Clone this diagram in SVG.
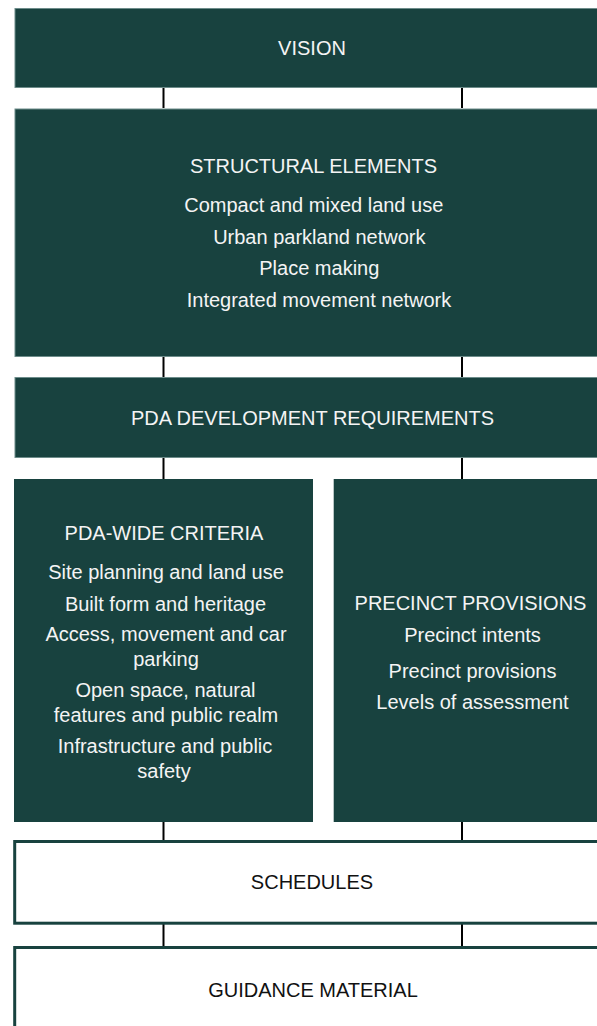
<svg xmlns="http://www.w3.org/2000/svg" width="597" height="1026" viewBox="0 0 597 1026">
<style>
.dark{fill:#18423f;}
.edge{stroke:#6d8c8a;stroke-width:1;}
.light{fill:#ffffff;stroke:#18423f;stroke-width:3;}
text{font-family:"Liberation Sans",Arial,sans-serif;font-size:20px;text-anchor:middle;}
.w{fill:#f4f4f4;}
.b{fill:#111111;}
.conn line{stroke:#000;stroke-width:2;}
</style>
<rect width="597" height="1026" fill="#ffffff"/>
<g class="conn" id="connectors">
<line x1="163.5" y1="88" x2="163.5" y2="108"/>
<line x1="462" y1="88" x2="462" y2="108"/>
<line x1="163.5" y1="357" x2="163.5" y2="377"/>
<line x1="462" y1="357" x2="462" y2="377"/>
<line x1="163.5" y1="458" x2="163.5" y2="479"/>
<line x1="462" y1="458" x2="462" y2="479"/>
<line x1="163.5" y1="822" x2="163.5" y2="840"/>
<line x1="462" y1="822" x2="462" y2="840"/>
<line x1="163.5" y1="924" x2="163.5" y2="946"/>
<line x1="462" y1="924" x2="462" y2="946"/>
</g>
<g id="vision">
<rect class="dark edge" x="15" y="8.5" width="600" height="79"/>
<text class="w" x="312" y="55">VISION</text>
</g>
<g id="structural">
<rect class="dark edge" x="15" y="109" width="600" height="247.5"/>
<text class="w" x="313.5" y="173">STRUCTURAL ELEMENTS</text>
<text class="w" x="313.8" y="212">Compact and mixed land use</text>
<text class="w" x="319.3" y="243.7">Urban parkland network</text>
<text class="w" x="319.3" y="275.3">Place making</text>
<text class="w" x="319" y="307">Integrated movement network</text>
</g>
<g id="pda-dev">
<rect class="dark edge" x="15" y="377.5" width="600" height="80"/>
<text class="w" x="312.5" y="425">PDA DEVELOPMENT REQUIREMENTS</text>
</g>
<g id="pda-wide">
<rect class="dark" x="14" y="479" width="299" height="343"/>
<text class="w" x="164" y="540">PDA-WIDE CRITERIA</text>
<text class="w" x="166" y="579">Site planning and land use</text>
<text class="w" x="165.5" y="611">Built form and heritage</text>
<text class="w" x="166" y="641">Access, movement and car</text>
<text class="w" x="166" y="666">parking</text>
<text class="w" x="165.5" y="697">Open space, natural</text>
<text class="w" x="166" y="722">features and public realm</text>
<text class="w" x="165" y="753">Infrastructure and public</text>
<text class="w" x="164" y="778">safety</text>
</g>
<g id="precinct">
<rect class="dark" x="333.7" y="479" width="280" height="343"/>
<text class="w" x="470.5" y="610">PRECINCT PROVISIONS</text>
<text class="w" x="472.5" y="642">Precinct intents</text>
<text class="w" x="472.5" y="678">Precinct provisions</text>
<text class="w" x="472.5" y="709">Levels of assessment</text>
</g>
<g id="schedules">
<rect class="light" x="14.7" y="841.5" width="600" height="81.7"/>
<text class="b" x="312" y="889">SCHEDULES</text>
</g>
<g id="guidance">
<rect class="light" x="14.7" y="947.5" width="600" height="100"/>
<text class="b" x="313" y="996.5">GUIDANCE MATERIAL</text>
</g>
</svg>
